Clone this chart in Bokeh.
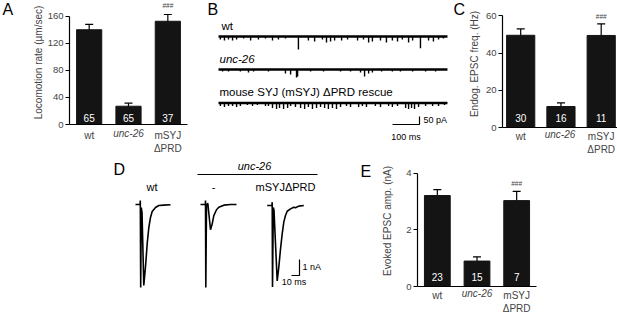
from bokeh.plotting import figure
from bokeh.layouts import column, row
from bokeh.models import ColumnDataSource, Whisker, TeeHead, Label, FixedTicker, Range1d
from bokeh.embed import file_html
from bokeh.resources import INLINE
from bokeh.core.properties import value

FONT = "Liberation Sans"
INK = "#000000"
BAR = "#141414"

# ---------------- data ----------------
groups = ["wt", "unc-26", "mSYJ ΔPRD"]
tick_text = ["wt", "", "mSYJ\nΔPRD"]      # the middle (unc-26) is set in italics as axis label
italic_group = "unc-26"
sig_text = "###"

loco_mean = [140.0, 27.0, 152.5]
loco_sem = [8.0, 4.5, 10.0]
loco_n = ["65", "65", "37"]
loco_ticks = [0, 40, 80, 120, 160]

freq_mean = [49.6, 11.3, 49.5]
freq_sem = [3.4, 1.9, 6.2]
freq_n = ["30", "16", "11"]
freq_ticks = [0, 20, 40, 60]

amp_mean = [3.22, 0.90, 3.04]
amp_sem = [0.21, 0.15, 0.33]
amp_n = ["23", "15", "7"]
amp_ticks = [0, 2, 4]

# B: endogenous EPSC traces (event time ms, amplitude pA)
trace_names = ["wt", "unc-26", "mouse SYJ (mSYJ) ΔPRD rescue"]
trace_len_ms = 848
wt_mini_ms = [7, 22, 37, 52, 67, 93, 119, 148, 174, 200, 222, 248, 296, 333, 356, 385, 400, 415,
              430, 456, 478, 515, 537, 556, 570, 600, 622, 644, 663, 681, 704, 719, 748, 778,
              796, 815, 833]
wt_mini_pa = [19, 25, 19, 25, 19, 12, 25, 19, 12, 25, 19, 12, 81, 25, 31, 19, 37, 31,
              25, 25, 19, 25, 19, 37, 31, 25, 37, 25, 31, 19, 37, 25, 73, 25,
              31, 19, 12]
unc_mini_ms = [15, 37, 81, 111, 130, 185, 248, 267, 289, 293, 341, 389, 452, 489, 526, 541,
               556, 570, 604, 644, 674, 719, 767, 804]
unc_mini_pa = [12, 12, 12, 19, 12, 12, 25, 31, 50, 44, 12, 12, 12, 12, 19, 44,
               25, 19, 12, 12, 12, 12, 12, 12]
msyj_mini_ms = [7, 22, 37, 52, 67, 81, 107, 126, 144, 174, 185, 200, 215, 226, 241, 256, 267,
                285, 304, 319, 333, 348, 363, 378, 393, 407, 422, 437, 452, 474, 489, 519,
                533, 548, 581, 600, 630, 644, 663, 693, 704, 715, 726, 741, 767, 793, 815, 837]
msyj_mini_pa = [19, 25, 19, 19, 25, 19, 12, 19, 12, 19, 19, 31, 37, 31, 37, 31, 19,
                25, 31, 37, 25, 37, 31, 25, 31, 37, 31, 37, 25, 19, 25, 25,
                19, 25, 19, 25, 19, 25, 19, 31, 37, 31, 37, 25, 19, 19, 19, 12]
b_bar_ms = 100
b_bar_pa = 50

# D: evoked EPSC traces (ms from stimulus, nA)
evoked_names = ["wt", "-", "mSYJΔPRD"]
wt_evk_ms = [-6.25, -0.5, -0.25, 0.25, 1.0, 1.9, 4.1, 6.25, 8.4, 10.4, 12.5, 14.6, 18.75, 22.9, 29.1, 37.5]
wt_evk_na = [0, 0, 0.25, -5.19, -0.19, -0.5, -5.06, -3.88, -2.44, -1.44, -0.81, -0.44, -0.19, -0.06, -0.04, -0.02]
unc_evk_ms = [-6.25, -0.25, 0, 0.375, 1.25, 2.9, 6.25, 8.4, 10.4, 13.75, 16.6, 22.9, 31.25, 38.75]
unc_evk_na = [0, 0, 0.25, -5.19, -0.06, 0.08, -1.58, -1.21, -0.69, -0.33, -0.17, -0.04, 0, 0]
msyj_evk_ms = [-6.25, -0.25, 0, 0.375, 1.4, 2.25, 6.25, 8.25, 10.4, 12.5, 14.5, 16.6, 18.75, 22.9, 27.0, 29.1, 33.25, 39.5]
msyj_evk_na = [0, 0, 0.21, -5.1, -0.125, -0.31, -4.71, -3.86, -2.71, -1.77, -1.04, -0.625, -0.36, -0.21, -0.11, -0.14, -0.04, 0]
d_bar_ms = 10
d_bar_na = 1


# ---------------- layout helpers ----------------
class Frame:
    """Maps page pixels to a figure's data coordinates."""
    def __init__(self, ox, oy, w, h, fl, ft, fw, fh, xr, yr):
        self.ox, self.oy, self.w, self.h = ox, oy, w, h
        self.fl, self.ft, self.fw, self.fh = fl, ft, fw, fh
        self.xr, self.yr = xr, yr

    def x(self, rx):
        return self.xr[0] + (rx - self.ox - self.fl) / self.fw * (self.xr[1] - self.xr[0])

    def y(self, ry):
        return self.yr[1] - (ry - self.oy - self.ft) / self.fh * (self.yr[1] - self.yr[0])

    def fig(self, **kw):
        p = figure(width=self.w, height=self.h,
                   x_range=Range1d(*self.xr), y_range=Range1d(*self.yr),
                   min_border_left=self.fl, min_border_right=self.w - self.fl - self.fw,
                   min_border_top=self.ft, min_border_bottom=self.h - self.ft - self.fh,
                   toolbar_location=None, output_backend="svg", **kw)
        try:
            p.frame_align = False
        except Exception:
            pass
        p.outline_line_color = None
        p.background_fill_color = "white"
        p.border_fill_color = "white"
        return p


def add_label(p, x, y, text, size="11px", style="normal", align="left", baseline="middle", color=INK):
    p.add_layout(Label(x=x, y=y, text=text, text_font=FONT, text_font_size=size,
                       text_font_style=style, text_align=align, text_baseline=baseline,
                       text_color=color))


def bar_panel(L, means, sems, ns, ticks, ylabel, label_standoff,
              n_ref_y, sig_ref_y, bar_w, xlab_standoff):
    p = L.fig()
    p.xgrid.visible = False
    p.ygrid.visible = False
    xs = [i + 0.5 for i in range(len(groups))]
    src = ColumnDataSource(dict(x=xs, top=means,
                                upper=[m + s for m, s in zip(means, sems)],
                                lower=[m - s for m, s in zip(means, sems)],
                                n=ns))
    p.vbar(x="x", top="top", bottom=0, width=bar_w, source=src,
           fill_color=BAR, line_color=BAR)
    p.add_layout(Whisker(base="x", upper="upper", lower="lower", source=src,
                         line_color=INK, line_width=1.2,
                         upper_head=TeeHead(size=8, line_width=1.2, line_color=INK),
                         lower_head=TeeHead(size=8, line_width=1.2, line_color=INK)))
    p.text(x="x", y=L.y(n_ref_y), text="n", source=src, text_color="white",
           text_font=value(FONT), text_font_size="10px",
           text_align="center", text_baseline="middle")
    p.text(x=[xs[2]], y=[L.y(sig_ref_y)], text=[sig_text], text_color="#444444",
           text_font=value(FONT), text_font_size="6.5px",
           text_align="center", text_baseline="middle")

    ya = p.yaxis[0]
    ya.ticker = FixedTicker(ticks=ticks, minor_ticks=[])
    ya.bounds = (ticks[0], ticks[-1])
    ya.axis_label = ylabel
    ya.axis_label_text_font = FONT
    ya.axis_label_text_font_size = "10px"
    ya.axis_label_text_font_style = "normal"
    ya.axis_label_standoff = label_standoff
    ya.major_label_text_font = FONT
    ya.major_label_text_font_size = "9.5px"
    ya.major_label_standoff = 2
    ya.major_tick_out = 4
    ya.major_tick_in = 0
    ya.minor_tick_out = 0
    ya.minor_tick_in = 0
    ya.axis_line_width = 1.2
    ya.major_tick_line_width = 1.2

    xa = p.xaxis[0]
    xa.ticker = FixedTicker(ticks=xs, minor_ticks=[])
    xa.major_label_overrides = {x: t for x, t in zip(xs, tick_text)}
    xa.major_label_text_font = FONT
    xa.major_label_text_font_size = "10px"
    xa.major_label_standoff = xlab_standoff
    xa.major_tick_out = 0
    xa.major_tick_in = 0
    xa.minor_tick_out = 0
    xa.minor_tick_in = 0
    xa.axis_line_width = 1.2
    # italic middle group name, centred under the middle bar (= frame centre)
    xa.axis_label = italic_group
    xa.axis_label_text_font = FONT
    xa.axis_label_text_font_size = "10px"
    xa.axis_label_text_font_style = "italic"
    xa.axis_label_standoff = -29
    return p


def letter_fig(L, letter, lx, ly):
    p = L.fig(x_axis_type=None, y_axis_type=None)
    p.text(x=[L.x(lx)], y=[L.y(ly)], text=[letter], text_font=value(FONT),
           text_font_size="16px", text_align="left", text_baseline="top", text_color=INK)
    return p


# ---------------- row 1 ----------------
LAl = Frame(0, 0, 18, 155, 0, 0, 18, 155, (0, 18), (155, 0))
pAl = letter_fig(LAl, "A", 2, 0)

LA = Frame(18, 0, 187, 155, 51, 0, 118, 124, (0, 3), (0, 183.2))
pA = bar_panel(LA, loco_mean, loco_sem, loco_n, loco_ticks, "Locomotion rate (µm/sec)", 1,
               117, 5, 0.64, 5)

LB = Frame(205, 0, 260, 155, 0, 0, 260, 155, (-48.15, 914.8), (-743.75, 225.0))
pB = LB.fig(x_axis_type=None, y_axis_type=None)
b_base_ref = [36, 69, 102.5]
b_label_ref = [(221, 25), (219, 58), (219, 91)]
minis = [(wt_mini_ms, wt_mini_pa), (unc_mini_ms, unc_mini_pa), (msyj_mini_ms, msyj_mini_pa)]
for i, (ms, pa) in enumerate(minis):
    base = LB.y(b_base_ref[i])
    pB.line(x=[0, trace_len_ms], y=[base, base], line_color=INK, line_width=2.4)
    pB.segment(x0=ms, y0=[base] * len(ms), x1=ms, y1=[base - a for a in pa],
               line_color=INK, line_width=1.4)
    add_label(pB, LB.x(b_label_ref[i][0]), LB.y(b_label_ref[i][1]), trace_names[i],
              size="11.5px", style="italic" if trace_names[i] == italic_group else "normal")
bx, by = LB.x(419), LB.y(124)
pB.line(x=[bx - b_bar_ms, bx, bx], y=[by, by, by + b_bar_pa], line_color=INK, line_width=1.2)
add_label(pB, LB.x(423), LB.y(119.5), f"{b_bar_pa} pA", size="9px")
add_label(pB, LB.x(405.5), LB.y(136), f"{b_bar_ms} ms", size="9px", align="center")
add_label(pB, LB.x(207), LB.y(0), "B", size="16px", baseline="top")
add_label(pB, LB.x(453), LB.y(0), "C", size="16px", baseline="top")

LC = Frame(465, 0, 152, 155, 32, 0, 120, 127, (0.048, 2.905), (0, 68.3))
pC = bar_panel(LC, freq_mean, freq_sem, freq_n, freq_ticks, "Endog. EPSC freq. (Hz)", 3,
               117.7, 16, 0.7, 3)

# ---------------- row 2 ----------------
LD = Frame(0, 155, 375, 158, 0, 0, 375, 158, (0, 468.75), (-6.8125, 3.0625))
pD = LD.fig(x_axis_type=None, y_axis_type=None)
d_stim_ref = [140, 205, 271.7]
d_base_ref = [204, 204, 205]
d_label_ref = [151.5, 213, 285]
evoked = [(wt_evk_ms, wt_evk_na), (unc_evk_ms, unc_evk_na), (msyj_evk_ms, msyj_evk_na)]
for i, (ms, na) in enumerate(evoked):
    t0, b0 = LD.x(d_stim_ref[i]), LD.y(d_base_ref[i])
    pD.line(x=[t + t0 for t in ms], y=[v + b0 for v in na], line_color=INK, line_width=1.6)
    add_label(pD, LD.x(d_label_ref[i]), LD.y(186), evoked_names[i], size="11px", align="center")
pD.line(x=[LD.x(197), LD.x(317)], y=[LD.y(174), LD.y(174)], line_color=INK, line_width=1.2)
add_label(pD, LD.x(254), LD.y(165), italic_group, size="11px", style="italic", align="center")
dx, dy = LD.x(299), LD.y(275)
pD.line(x=[dx - d_bar_ms, dx, dx], y=[dy, dy, dy + d_bar_na], line_color=INK, line_width=1.2)
add_label(pD, LD.x(302), LD.y(266), f"{d_bar_na} nA", size="9px")
add_label(pD, LD.x(293.5), LD.y(281.5), f"{d_bar_ms} ms", size="9px", align="center")
add_label(pD, LD.x(113), LD.y(160), "D", size="16px", baseline="top")
add_label(pD, LD.x(360), LD.y(162), "E", size="16px", baseline="top")

LE = Frame(375, 155, 242, 158, 42, 0, 119, 131, (0, 3), (0, 4.637))
pE = bar_panel(LE, amp_mean, amp_sem, amp_n, amp_ticks, "Evoked EPSC amp. (nA)", 10,
               276.7, 183, 0.65, 3)

layout = column(row(pAl, pA, pB, pC), row(pD, pE))
open("out.html", "w").write(file_html(layout, INLINE))
